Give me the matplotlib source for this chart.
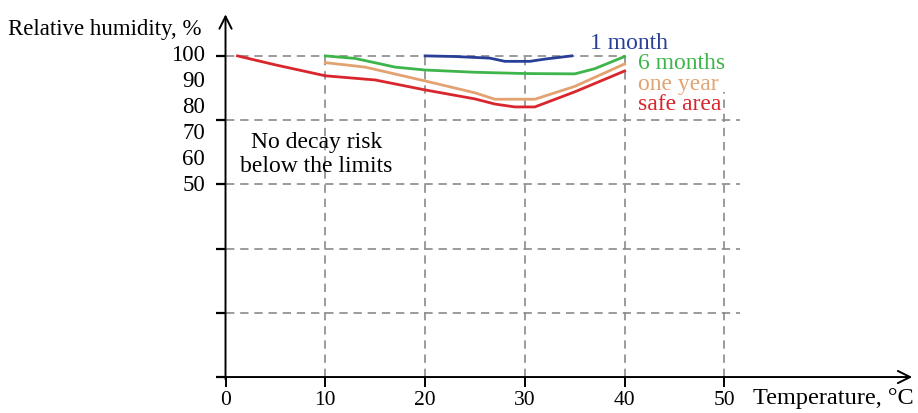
import numpy as np
import matplotlib
matplotlib.use('Agg')
import matplotlib.pyplot as plt

plt.rcParams['font.family'] = ['Liberation Serif', 'DejaVu Serif']

# curves (temperature in °C, humidity in axis units)
t_safe = [1.2, 5, 10, 15, 20, 25, 27, 29, 31, 35, 40]
h_safe = [100, 97.2, 93.8, 92.5, 89.4, 86.6, 85.0, 84.1, 84.1, 88.8, 95.3]

t_year = [10, 14, 20, 25, 27, 31, 35, 40]
h_year = [97.9, 96.5, 92.2, 88.5, 86.5, 86.5, 90.5, 97.5]

t_6m = [10, 13, 17, 20, 25, 30, 35, 37, 40]
h_6m = [100, 99.2, 96.5, 95.6, 94.9, 94.5, 94.4, 96.0, 99.8]

t_1m = [20, 23, 26.5, 28, 30.5, 32, 34.7]
h_1m = [100, 99.8, 99.3, 98.3, 98.3, 99.0, 100]

x_ticks = [0, 10, 20, 30, 40, 50]
y_ticks = [0, 20, 40, 60, 80, 100]
y_labels = ['100', '90', '80', '70', '60', '50']

c_safe = '#d9262c'
c_year = '#e3a271'
c_6m = '#3db54a'
c_1m = '#283f96'
grid_c = '#8a8a8a'

fig = plt.figure(figsize=(9.18, 4.13), dpi=100)
ax = fig.add_axes([0, 0, 1, 1])
ax.set_xlim(-22.6, 69.4)
ax.set_ylim(-11.2, 117.4)
ax.patch.set_visible(False)

for s in ['top', 'right']:
    ax.spines[s].set_visible(False)
ax.spines['left'].set_position(('data', 0))
ax.spines['bottom'].set_position(('data', 0))
ax.spines['left'].set_color('none')
ax.spines['bottom'].set_color('none')

# axes with open arrow heads
ax.annotate('', xy=(0, 113.8), xytext=(0, -1.6),
            arrowprops=dict(arrowstyle='->', lw=1.4, color='black', mutation_scale=22))
ax.annotate('', xy=(69.1, 0), xytext=(-0.4, 0),
            arrowprops=dict(arrowstyle='->', lw=1.4, color='black', mutation_scale=22))

ax.set_xticks(x_ticks)
ax.set_xticklabels([str(v) for v in x_ticks], fontsize=15.5)
ax.set_yticks(y_ticks)
ax.set_yticklabels([])
ax.tick_params(axis='x', direction='out', length=7, width=1.4, pad=3)
ax.tick_params(axis='y', direction='out', length=7, width=1.6)

# dashed grid
dash = dict(color=grid_c, lw=1.2, linestyle=(0, (5, 3.5)), zorder=1)
for xv in [10, 20, 30, 40]:
    ax.plot([xv, xv], [0, 100], **dash)
ax.plot([50, 50], [0, 88.8], **dash)
ax.plot([0, 40], [100, 100], **dash)
for yv in [20, 40, 60, 80]:
    ax.plot([0, 51.6], [yv, yv], **dash)

# curves
ax.plot(t_safe, h_safe, color=c_safe, lw=2, zorder=3)
ax.plot(t_year, h_year, color=c_year, lw=2, zorder=3)
ax.plot(t_6m, h_6m, color=c_6m, lw=2, zorder=3)
ax.plot(t_1m, h_1m, color=c_1m, lw=2, zorder=3)

# humidity labels
for yv, lab in zip(np.linspace(100, 59.5, 6), y_labels):
    ax.text(-2.05, yv, lab, ha='right', va='center', fontsize=16.5)

ax.text(-21.8, 108.1, 'Relative humidity, %', ha='left', va='center', fontsize=16.5)
ax.text(52.9, -6.6, 'Temperature, °C', ha='left', va='center', fontsize=17.5)

ax.text(36.5, 103.8, '1 month', color=c_1m, ha='left', va='center', fontsize=17)
ax.text(41.3, 97.5, '6 months', color=c_6m, ha='left', va='center', fontsize=17)
ax.text(41.3, 91.0, 'one year', color=c_year, ha='left', va='center', fontsize=17)
ax.text(41.3, 84.8, 'safe area', color=c_safe, ha='left', va='center', fontsize=17)

ax.text(9.1, 69.3, 'No decay risk\nbelow the limits', ha='center', va='center',
        fontsize=17, linespacing=1.15)

fig.savefig('out.png', dpi=100)
